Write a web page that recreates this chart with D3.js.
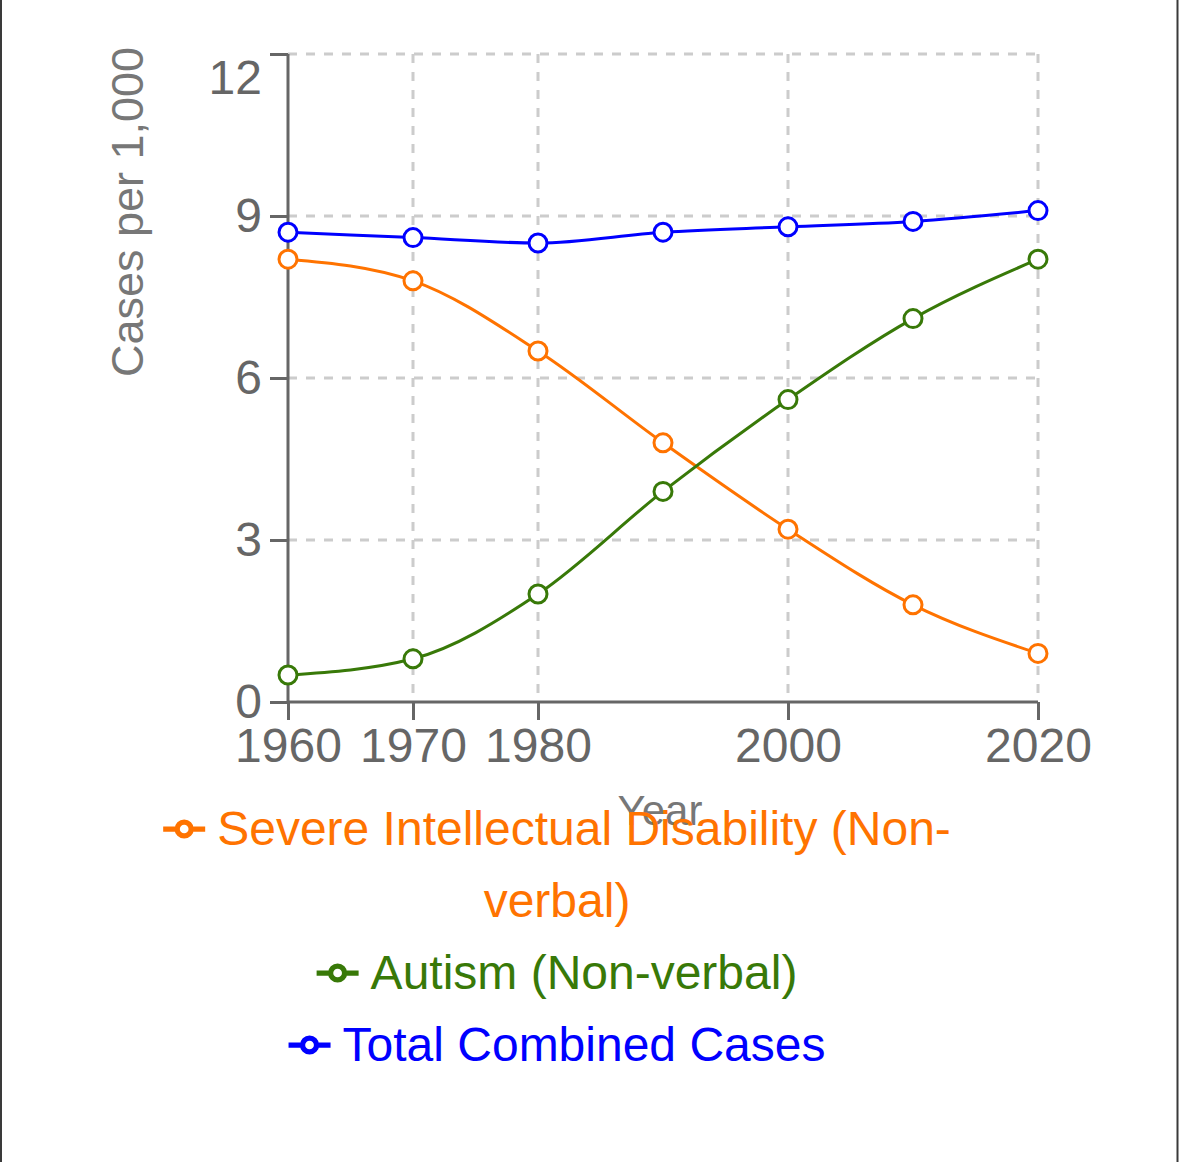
<!DOCTYPE html>
<html>
<head>
<meta charset="utf-8">
<script src="https://cdn.jsdelivr.net/npm/d3@7"></script>
<style>
  html, body { margin: 0; padding: 0; background: #fff; }
  #frame { position: relative; width: 1179px; height: 1162px; }
  svg { position: absolute; left: 0; top: 0; }
  text { font-family: "Liberation Sans", Arial, Helvetica, sans-serif; }
</style>
</head>
<body>
<div id="frame"></div>
<script>
// chart values
const years = [1960, 1970, 1980, 1990, 2000, 2010, 2020];
const severeId = [8.2, 7.8, 6.5, 4.8, 3.2, 1.8, 0.9];
const autism = [0.5, 0.8, 2.0, 3.9, 5.6, 7.1, 8.2];
const totalCases = [8.7, 8.6, 8.5, 8.7, 8.8, 8.9, 9.1];

const xTicks = [1960, 1970, 1980, 2000, 2020];
const yTicks = [0, 3, 6, 9, 12];

const seriesNames = ['Severe Intellectual Disability (Non-verbal)', 'Autism (Non-verbal)', 'Total Combined Cases'];
const seriesColors = ['#ff7300', '#387908', '#0000ff'];
const seriesValues = [severeId, autism, totalCases];

const xLabel = 'Year';
const yLabel = 'Cases per 1,000';

const width = 1179, height = 1162;
const plot = { left: 288, right: 1038, top: 54, bottom: 702 };

const svg = d3.select('#frame').append('svg')
  .attr('width', width)
  .attr('height', height);

// card edges on the left and right
svg.append('g').attr('class', 'frame')
  .selectAll('line').data([1, width - 1.5]).join('line')
  .attr('x1', d => d).attr('x2', d => d)
  .attr('y1', 0).attr('y2', height)
  .attr('stroke', '#3a3a3a')
  .attr('stroke-width', 2);

const x = d3.scaleLinear().domain([1960, 2020]).range([plot.left, plot.right]);
const y = d3.scaleLinear().domain([0, 12]).range([plot.bottom, plot.top]);

// grid
const grid = svg.append('g').attr('class', 'grid')
  .attr('stroke', '#ccc')
  .attr('stroke-width', 3)
  .attr('stroke-dasharray', '9 9');

grid.selectAll('line.h').data(yTicks.filter(d => d > 0)).join('line')
  .attr('class', 'h')
  .attr('x1', plot.left).attr('x2', plot.right)
  .attr('y1', d => y(d)).attr('y2', d => y(d));

grid.selectAll('line.v').data(xTicks.filter(d => d > 1960)).join('line')
  .attr('class', 'v')
  .attr('x1', d => x(d)).attr('x2', d => x(d))
  .attr('y1', plot.top).attr('y2', plot.bottom);

// axes
const xAxis = d3.axisBottom(x).tickValues(xTicks).tickFormat(d3.format('d')).tickSize(18).tickPadding(8);
const yAxis = d3.axisLeft(y).tickValues(yTicks).tickSize(18).tickPadding(8);

const gx = svg.append('g')
  .attr('transform', `translate(0,${plot.bottom})`)
  .call(xAxis);
const gy = svg.append('g')
  .attr('transform', `translate(${plot.left},0)`)
  .call(yAxis);

[gx, gy].forEach(g => {
  g.select('.domain').attr('stroke', '#666').attr('stroke-width', 3);
  g.selectAll('.tick line').attr('stroke', '#666').attr('stroke-width', 3);
  g.selectAll('.tick text')
    .attr('fill', '#666')
    .style('font-size', '48px')
    .style('font-family', '"Liberation Sans", Arial, sans-serif');
});
// plain axis lines without outer end caps
gx.select('.domain').attr('d', `M${plot.left},0H${plot.right}`);
gy.select('.domain').attr('d', `M0,${plot.top}V${plot.bottom}`);
// top tick label sits a little lower to stay inside the box
gy.selectAll('.tick text').filter(d => d === 12).attr('dy', '0.82em');

// axis labels
svg.append('text')
  .attr('transform', `translate(127,212) rotate(-90)`)
  .attr('text-anchor', 'middle')
  .attr('dy', '0.35em')
  .attr('fill', '#777')
  .style('font-size', '45px')
  .text(yLabel);

svg.append('text')
  .attr('x', 660)
  .attr('y', 825)
  .attr('text-anchor', 'middle')
  .attr('fill', '#777')
  .style('font-size', '42px')
  .text(xLabel);

// series
const line = d3.line()
  .x(d => x(d[0]))
  .y(d => y(d[1]))
  .curve(d3.curveMonotoneX);

seriesValues.forEach((vals, i) => {
  const pts = years.map((yr, j) => [yr, vals[j]]);
  const g = svg.append('g').attr('class', `series-${i}`);
  g.append('path')
    .datum(pts)
    .attr('fill', 'none')
    .attr('stroke', seriesColors[i])
    .attr('stroke-width', 3)
    .attr('d', line);
  g.selectAll('circle').data(pts).join('circle')
    .attr('cx', d => x(d[0]))
    .attr('cy', d => y(d[1]))
    .attr('r', 9)
    .attr('fill', '#fff')
    .attr('stroke', seriesColors[i])
    .attr('stroke-width', 3);
});

// legend: centered rows, long labels wrap after spaces or hyphens
const legend = svg.append('g').attr('class', 'legend');
const legendCx = 557;
const maxLineW = 760;
const iconW = 42, iconGap = 12;
let baseline = 845;

const measure = svg.append('text').style('font-size', '48px').attr('visibility', 'hidden');
const textW = s => { measure.text(s); return measure.node().getComputedTextLength(); };

function wrapLabel(label) {
  const parts = label.match(/[^\s-]+-?\s*|\s+/g);
  const lines = [];
  let cur = '';
  parts.forEach(p => {
    const trial = cur + p;
    const limit = lines.length === 0 ? maxLineW : maxLineW + iconW + iconGap;
    if (cur && textW(trial.trimEnd()) > limit) {
      lines.push(cur.trimEnd());
      cur = p;
    } else {
      cur = trial;
    }
  });
  if (cur) lines.push(cur.trimEnd());
  return lines;
}

seriesNames.forEach((name, i) => {
  const lines = wrapLabel(name);
  lines.forEach((ln, k) => {
    const w = textW(ln);
    if (k === 0) {
      const left = legendCx - (iconW + iconGap + w) / 2;
      const ig = legend.append('g')
        .attr('transform', `translate(${left},${baseline - 16 - iconW / 2})`);
      const s = iconW / 32;
      ig.append('path')
        .attr('transform', `scale(${s})`)
        .attr('fill', 'none')
        .attr('stroke', seriesColors[i])
        .attr('stroke-width', 4)
        .attr('d', 'M0,16h10.67A5.33,5.33,0,1,1,21.33,16H32M21.33,16A5.33,5.33,0,1,1,10.67,16');
      legend.append('text')
        .attr('x', left + iconW + iconGap)
        .attr('y', baseline)
        .attr('fill', seriesColors[i])
        .style('font-size', '48px')
        .text(ln);
    } else {
      legend.append('text')
        .attr('x', legendCx)
        .attr('y', baseline)
        .attr('text-anchor', 'middle')
        .attr('fill', seriesColors[i])
        .style('font-size', '48px')
        .text(ln);
    }
    baseline += 72;
  });
});
measure.remove();
</script>
</body>
</html>
